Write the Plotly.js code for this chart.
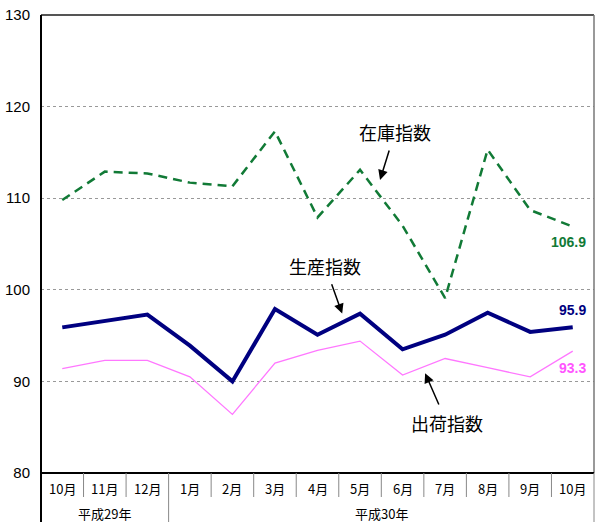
<!DOCTYPE html>
<html><head><meta charset="utf-8">
<script src="https://cdn.plot.ly/plotly-3.0.1.min.js"></script>
<style>body{margin:0;background:#fff}#c{width:600px;height:527px}</style>
</head><body><div id="c"></div>
<script>
const months = ['10月','11月','12月','1月','2月','3月','4月','5月','6月','7月','8月','9月','10月'];
const yearGroups = ['平成29年','平成30年'];
const yearSpans = [[0,2],[3,12]];
const inventory = [109.8,112.9,112.7,111.7,111.3,117.3,107.9,113.1,107.0,99.1,115.3,108.7,106.9];
const production = [95.9,96.6,97.3,93.9,90.0,97.9,95.1,97.4,93.5,95.1,97.5,95.4,95.9];
const shipments = [91.4,92.3,92.3,90.5,86.4,92.0,93.4,94.4,90.7,92.5,91.5,90.5,93.3];
const yTicks = [80,90,100,110,120,130];

const xs = months.map((_,i)=>i);
const last = months.length-1;
const jp = '"Noto Sans CJK JP", sans-serif';
const sans = '"Liberation Sans", Arial, sans-serif';

const traces = [
  {x:xs,y:shipments,mode:'lines',line:{color:'#ff77ff',width:1.3},hoverinfo:'skip'},
  {x:xs,y:inventory,mode:'lines',line:{color:'#117a36',width:2.5,dash:'9px,6px'},hoverinfo:'skip'},
  {x:xs,y:production,mode:'lines',line:{color:'#000080',width:4},hoverinfo:'skip'}
];

const pH = 458; // plot height px
const p = px => -px/pH;
const shapes = [];
// frame
shapes.push({type:'line',xref:'paper',yref:'paper',x0:0,x1:1,y0:1,y1:1,line:{color:'#555',width:2}});
shapes.push({type:'line',xref:'paper',yref:'paper',x0:1,x1:1,y0:0,y1:1,line:{color:'#777',width:1.5}});
shapes.push({type:'line',xref:'paper',yref:'paper',x0:0,x1:0,y0:p(49),y1:1,line:{color:'#000',width:2}});
shapes.push({type:'line',xref:'paper',yref:'paper',x0:0,x1:1,y0:0,y1:0,line:{color:'#000',width:2}});
// month separators
for(let i=1;i<months.length;i++){
  const isYear = yearSpans.some(s=>s[0]===i);
  shapes.push({type:'line',xref:'x',yref:'paper',x0:i-0.5,x1:i-0.5,y0:0,y1:p(isYear?49:24),line:{color:'#888',width:1}});
}
shapes.push({type:'line',xref:'paper',yref:'paper',x0:1,x1:1,y0:0,y1:p(49),line:{color:'#888',width:1}});

const ann = [];
months.forEach((m,i)=>ann.push({x:i,y:0,xref:'x',yref:'paper',text:m,showarrow:false,yanchor:'middle',yshift:-15,font:{family:jp,size:13,color:'#000'}}));
yearGroups.forEach((g,k)=>ann.push({x:(yearSpans[k][0]+yearSpans[k][1])/2,y:0,xref:'x',yref:'paper',text:g,showarrow:false,yanchor:'middle',yshift:-40,font:{family:jp,size:13,color:'#000'}}));
// value labels
ann.push({x:last,y:inventory[last],xref:'x',yref:'y',text:inventory[last].toFixed(1),showarrow:false,xshift:-4,yshift:-15,font:{family:sans,size:14,color:'#117a36',weight:'bold'}});
ann.push({x:last,y:production[last],xref:'x',yref:'y',text:production[last].toFixed(1),showarrow:false,xshift:0,yshift:17,font:{family:sans,size:14,color:'#000080',weight:'bold'}});
ann.push({x:last,y:shipments[last],xref:'x',yref:'y',text:shipments[last].toFixed(1),showarrow:false,xshift:0,yshift:-17,font:{family:sans,size:14,color:'#ff55ff',weight:'bold'}});
// series name callouts
const call = (text,tx,ty,hx,hy)=>({x:hx,y:hy,xref:'x',yref:'y',ax:tx,ay:ty,axref:'x',ayref:'y',text:text,showarrow:true,arrowhead:2,arrowsize:1.3,arrowwidth:1.5,arrowcolor:'#000',standoff:0,startstandoff:4,font:{family:jp,size:18,color:'#000'}});
ann.push(call('在庫指数',7.82,117.2,7.47,112.0));
ann.push(call('生産指数',6.18,102.6,6.58,97.4));
ann.push(call('出荷指数',9.04,85.5,8.53,90.9));

const layout = {
  width:600,height:527,
  margin:{l:41,r:6,t:15,b:54},
  paper_bgcolor:'#fff',plot_bgcolor:'#fff',
  showlegend:false,
  xaxis:{range:[-0.5,last+0.5],showticklabels:false,showgrid:false,zeroline:false,showline:false,fixedrange:true},
  yaxis:{range:[80,130],tickvals:yTicks,ticktext:yTicks.map(String),showgrid:true,gridcolor:'#999',griddash:'dot',gridwidth:1,zeroline:false,showline:false,ticks:'',tickfont:{family:sans,size:15,color:'#000'},ticklabelstandoff:10,fixedrange:true},
  shapes:shapes,
  annotations:ann
};
Plotly.newPlot('c',traces,layout,{displayModeBar:false,staticPlot:true});
</script></body></html>
